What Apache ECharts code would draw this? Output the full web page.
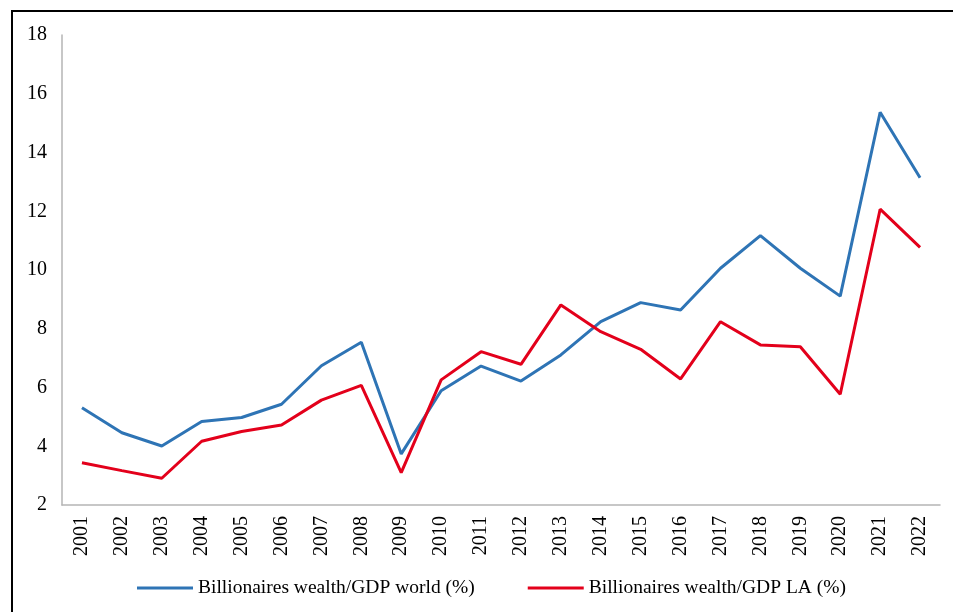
<!DOCTYPE html>
<html>
<head>
<meta charset="utf-8">
<script src="https://cdn.jsdelivr.net/npm/echarts@6/dist/echarts.min.js"></script>
<style>
  html, body { margin: 0; padding: 0; overflow: hidden; background: #fff; }
  .frame {
    position: absolute; left: 11px; top: 10px;
    width: 1200px; height: 900px;
    border: 2px solid #000;
  }
  #chart { position: absolute; left: 0; top: 0; width: 953px; height: 612px; }
</style>
</head>
<body>
<div class="frame"></div>
<div id="chart"></div>
<script>
const years = ['2001', '2002', '2003', '2004', '2005', '2006', '2007', '2008', '2009', '2010', '2011',
  '2012', '2013', '2014', '2015', '2016', '2017', '2018', '2019', '2020', '2021', '2022'];
const worldShare = [5.31, 4.46, 4.01, 4.84, 4.98, 5.43, 6.74, 7.54, 3.74, 5.89, 6.73,
  6.22, 7.11, 8.24, 8.89, 8.64, 10.06, 11.17, 10.06, 9.11, 15.37, 13.14];
const laShare = [3.44, 3.17, 2.91, 4.17, 4.50, 4.72, 5.57, 6.07, 3.10, 6.26, 7.22,
  6.79, 8.81, 7.90, 7.30, 6.29, 8.24, 7.45, 7.39, 5.77, 12.07, 10.77];
const yTicks = [2, 4, 6, 8, 10, 12, 14, 16, 18];

const myChart = echarts.init(document.getElementById('chart'), null, { renderer: 'canvas' });
const font = "'Liberation Serif', 'Times New Roman', serif";

const option = {
  animation: false,
  textStyle: { fontFamily: font },
  grid: { left: 62, right: 13, top: 35, bottom: 107 },
  legend: {
    bottom: 14,
    left: 137,
    padding: 0,
    itemWidth: 56,
    itemHeight: 3,
    itemGap: 53,
    itemTextGap: 6,
    icon: 'rect',
    textStyle: { fontFamily: font, fontSize: 19.5, color: '#000' },
    data: ['Billionaires wealth/GDP world (%)', 'Billionaires wealth/GDP LA (%)']
  },
  xAxis: {
    type: 'category',
    data: years,
    boundaryGap: true,
    axisLine: { lineStyle: { color: '#b5b5b5', width: 1.5 } },
    axisTick: { show: false },
    axisLabel: { rotate: 90, margin: 11, fontSize: 20, color: '#000', fontFamily: font }
  },
  yAxis: {
    type: 'value',
    min: yTicks[0],
    max: yTicks[yTicks.length - 1],
    interval: 2,
    axisLine: { show: true, lineStyle: { color: '#b5b5b5', width: 1.5 } },
    axisTick: { show: false },
    splitLine: { show: false },
    axisLabel: { margin: 15, fontSize: 20, color: '#000', fontFamily: font }
  },
  series: [
    {
      name: 'Billionaires wealth/GDP world (%)',
      type: 'line',
      data: worldShare,
      symbol: 'none',
      lineStyle: { color: '#2e74b5', width: 3 },
      itemStyle: { color: '#2e74b5' }
    },
    {
      name: 'Billionaires wealth/GDP LA (%)',
      type: 'line',
      data: laShare,
      symbol: 'none',
      lineStyle: { color: '#e3001b', width: 3 },
      itemStyle: { color: '#e3001b' }
    }
  ]
};
myChart.setOption(option);
window.addEventListener('resize', myChart.resize);
</script>
</body>
</html>
